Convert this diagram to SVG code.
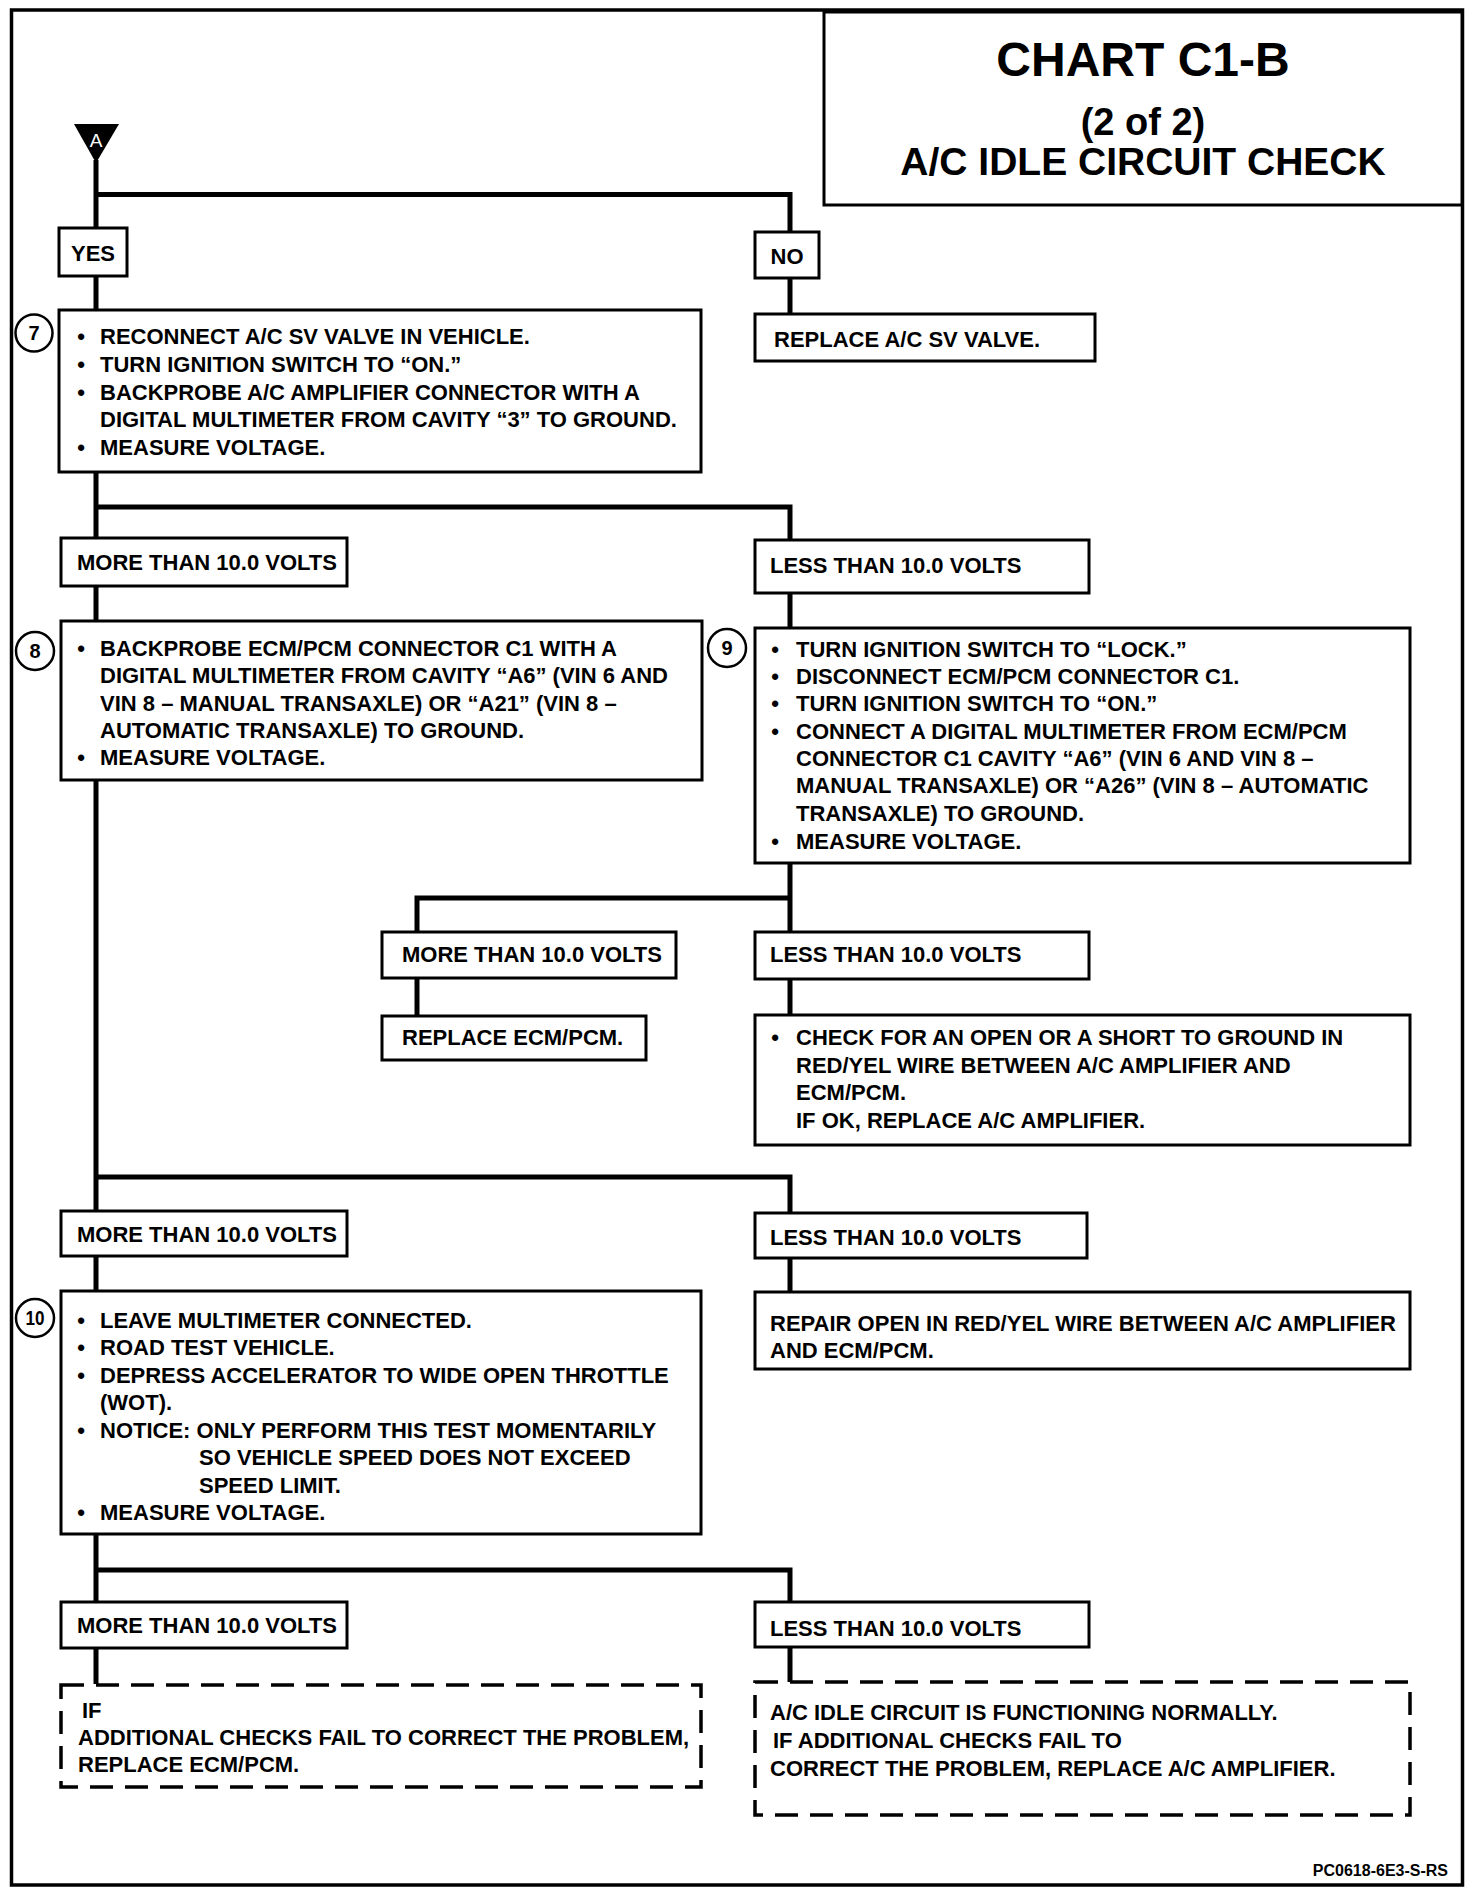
<svg xmlns="http://www.w3.org/2000/svg" width="1472" height="1894" viewBox="0 0 1472 1894">
<style>
.box{fill:#fff;stroke:#000;stroke-width:3}
.dash{fill:#fff;stroke:#000;stroke-width:3.5;stroke-dasharray:23 12}
.conn{fill:none;stroke:#000;stroke-width:5}
.t{font-family:"Liberation Sans",Arial,Helvetica,sans-serif;font-weight:bold;font-size:22px;fill:#000}
.b{font-family:"Liberation Sans",Arial,sans-serif;font-weight:bold;font-size:22px;fill:#000;text-anchor:middle}
.c{fill:#fff;stroke:#000;stroke-width:2.5}
.n{font-family:"Liberation Sans",Arial,sans-serif;font-weight:bold;font-size:20px;text-anchor:middle;fill:#000}
.ttl{font-family:"Liberation Sans",Arial,sans-serif;font-weight:bold;text-anchor:middle;fill:#000}
</style>
<rect x="0" y="0" width="1472" height="1894" fill="#fff"/>
<rect id="frame" x="11.5" y="10" width="1451" height="1875" fill="none" stroke="#000" stroke-width="3.5"/>
<g id="title">
<rect x="824" y="12" width="638" height="193" fill="#fff" stroke="#000" stroke-width="3"/>
<text class="ttl" x="1143" y="76" font-size="48">CHART C1-B</text>
<text class="ttl" x="1143" y="135" font-size="38">(2 of 2)</text>
<text class="ttl" x="1143" y="175" font-size="39">A/C IDLE CIRCUIT CHECK</text>
</g>
<g id="connectors">
<path class="conn" d="M96 160 V1684"/>
<path class="conn" d="M96 194.5 H790 V233"/>
<path class="conn" d="M790 278 V314"/>
<path class="conn" d="M96 507 H790 V540"/>
<path class="conn" d="M790 593 V932"/>
<path class="conn" d="M417 932 V898 H790"/>
<path class="conn" d="M417 978 V1016"/>
<path class="conn" d="M790 979 V1015"/>
<path class="conn" d="M96 1177 H790 V1213"/>
<path class="conn" d="M790 1258 V1292"/>
<path class="conn" d="M96 1570 H790 V1602"/>
<path class="conn" d="M790 1647 V1682"/>
</g>
<g id="start-A">
<polygon points="74,124 119,124 96,163" fill="#000"/>
<text x="96" y="147" font-family="Liberation Sans,Arial,sans-serif" font-size="19" fill="#fff" text-anchor="middle">A</text>
</g>
<g id="yes">
<rect class="box" x="59" y="228" width="68" height="48"/>
<text class="b" x="93" y="261">YES</text>
</g>
<g id="no">
<rect class="box" x="755" y="232" width="64" height="46"/>
<text class="b" x="787" y="264">NO</text>
</g>
<g id="replace-sv">
<rect class="box" x="755" y="314" width="340" height="47"/>
<text class="t" x="774" y="347">REPLACE A/C SV VALVE.</text>
</g>
<g id="step7">
<rect class="box" x="59" y="310" width="642" height="162"/>
<circle class="c" cx="34" cy="333" r="18.5"/>
<text class="n" x="34" y="340">7</text>
<text class="b" x="81" y="344">•</text>
<text class="t" x="100" y="344">RECONNECT A/C SV VALVE IN VEHICLE.</text>
<text class="b" x="81" y="372">•</text>
<text class="t" x="100" y="372">TURN IGNITION SWITCH TO “ON.”</text>
<text class="b" x="81" y="400">•</text>
<text class="t" x="100" y="400">BACKPROBE A/C AMPLIFIER CONNECTOR WITH A</text>
<text class="t" x="100" y="427">DIGITAL MULTIMETER FROM CAVITY “3” TO GROUND.</text>
<text class="b" x="81" y="455">•</text>
<text class="t" x="100" y="455">MEASURE VOLTAGE.</text>
</g>
<g id="more1">
<rect class="box" x="61" y="538" width="286" height="48"/>
<text class="t" x="77" y="570">MORE THAN 10.0 VOLTS</text>
</g>
<g id="less1">
<rect class="box" x="755" y="540" width="334" height="53"/>
<text class="t" x="770" y="573">LESS THAN 10.0 VOLTS</text>
</g>
<g id="step8">
<rect class="box" x="61" y="621" width="641" height="159"/>
<circle class="c" cx="35" cy="651" r="19"/>
<text class="n" x="35" y="658">8</text>
<text class="b" x="81" y="656">•</text>
<text class="t" x="100" y="656">BACKPROBE ECM/PCM CONNECTOR C1 WITH A</text>
<text class="t" x="100" y="683">DIGITAL MULTIMETER FROM CAVITY “A6” (VIN 6 AND</text>
<text class="t" x="100" y="711">VIN 8 – MANUAL TRANSAXLE) OR “A21” (VIN 8 –</text>
<text class="t" x="100" y="738">AUTOMATIC TRANSAXLE) TO GROUND.</text>
<text class="b" x="81" y="765">•</text>
<text class="t" x="100" y="765">MEASURE VOLTAGE.</text>
</g>
<g id="step9">
<rect class="box" x="755" y="628" width="655" height="235"/>
<circle class="c" cx="727" cy="648" r="19"/>
<text class="n" x="727" y="655">9</text>
<text class="b" x="775" y="657">•</text>
<text class="t" x="796" y="657">TURN IGNITION SWITCH TO “LOCK.”</text>
<text class="b" x="775" y="684">•</text>
<text class="t" x="796" y="684">DISCONNECT ECM/PCM CONNECTOR C1.</text>
<text class="b" x="775" y="711">•</text>
<text class="t" x="796" y="711">TURN IGNITION SWITCH TO “ON.”</text>
<text class="b" x="775" y="739">•</text>
<text class="t" x="796" y="739">CONNECT A DIGITAL MULTIMETER FROM ECM/PCM</text>
<text class="t" x="796" y="766">CONNECTOR C1 CAVITY “A6” (VIN 6 AND VIN 8 –</text>
<text class="t" x="796" y="793">MANUAL TRANSAXLE) OR “A26” (VIN 8 – AUTOMATIC</text>
<text class="t" x="796" y="821">TRANSAXLE) TO GROUND.</text>
<text class="b" x="775" y="849">•</text>
<text class="t" x="796" y="849">MEASURE VOLTAGE.</text>
</g>
<g id="more2">
<rect class="box" x="382" y="932" width="294" height="46"/>
<text class="t" x="402" y="962">MORE THAN 10.0 VOLTS</text>
</g>
<g id="less2">
<rect class="box" x="755" y="932" width="334" height="47"/>
<text class="t" x="770" y="962">LESS THAN 10.0 VOLTS</text>
</g>
<g id="replace-ecm1">
<rect class="box" x="382" y="1016" width="264" height="44"/>
<text class="t" x="402" y="1045">REPLACE ECM/PCM.</text>
</g>
<g id="check-open">
<rect class="box" x="755" y="1015" width="655" height="130"/>
<text class="b" x="775" y="1045">•</text>
<text class="t" x="796" y="1045">CHECK FOR AN OPEN OR A SHORT TO GROUND IN</text>
<text class="t" x="796" y="1073">RED/YEL WIRE BETWEEN A/C AMPLIFIER AND</text>
<text class="t" x="796" y="1100">ECM/PCM.</text>
<text class="t" x="796" y="1128">IF OK, REPLACE A/C AMPLIFIER.</text>
</g>
<g id="more3">
<rect class="box" x="61" y="1211" width="286" height="45"/>
<text class="t" x="77" y="1242">MORE THAN 10.0 VOLTS</text>
</g>
<g id="less3">
<rect class="box" x="755" y="1213" width="332" height="45"/>
<text class="t" x="770" y="1245">LESS THAN 10.0 VOLTS</text>
</g>
<g id="step10">
<rect class="box" x="61" y="1291" width="640" height="243"/>
<circle class="c" cx="35" cy="1318" r="19"/>
<text class="n" x="35" y="1325" font-size="18" textLength="19" lengthAdjust="spacingAndGlyphs">10</text>
<text class="b" x="81" y="1328">•</text>
<text class="t" x="100" y="1328">LEAVE MULTIMETER CONNECTED.</text>
<text class="b" x="81" y="1355">•</text>
<text class="t" x="100" y="1355">ROAD TEST VEHICLE.</text>
<text class="b" x="81" y="1383">•</text>
<text class="t" x="100" y="1383">DEPRESS ACCELERATOR TO WIDE OPEN THROTTLE</text>
<text class="t" x="100" y="1410">(WOT).</text>
<text class="b" x="81" y="1438">•</text>
<text class="t" x="100" y="1438">NOTICE: ONLY PERFORM THIS TEST MOMENTARILY</text>
<text class="t" x="199" y="1465">SO VEHICLE SPEED DOES NOT EXCEED</text>
<text class="t" x="199" y="1493">SPEED LIMIT.</text>
<text class="b" x="81" y="1520">•</text>
<text class="t" x="100" y="1520">MEASURE VOLTAGE.</text>
</g>
<g id="repair-open">
<rect class="box" x="755" y="1292" width="655" height="77"/>
<text class="t" x="770" y="1331">REPAIR OPEN IN RED/YEL WIRE BETWEEN A/C AMPLIFIER</text>
<text class="t" x="770" y="1358">AND ECM/PCM.</text>
</g>
<g id="more4">
<rect class="box" x="61" y="1602" width="286" height="46"/>
<text class="t" x="77" y="1633">MORE THAN 10.0 VOLTS</text>
</g>
<g id="less4">
<rect class="box" x="755" y="1602" width="334" height="45"/>
<text class="t" x="770" y="1636">LESS THAN 10.0 VOLTS</text>
</g>
<g id="final-left">
<rect class="dash" x="61" y="1685" width="640" height="102"/>
<text class="t" x="82" y="1718">IF</text>
<text class="t" x="78" y="1745">ADDITIONAL CHECKS FAIL TO CORRECT THE PROBLEM,</text>
<text class="t" x="78" y="1772">REPLACE ECM/PCM.</text>
</g>
<g id="final-right">
<rect class="dash" x="755" y="1682" width="655" height="133"/>
<text class="t" x="770" y="1720">A/C IDLE CIRCUIT IS FUNCTIONING NORMALLY.</text>
<text class="t" x="773" y="1748">IF ADDITIONAL CHECKS FAIL TO</text>
<text class="t" x="770" y="1776">CORRECT THE PROBLEM, REPLACE A/C AMPLIFIER.</text>
</g>
<text x="1448" y="1876" font-family="Liberation Sans,Arial,sans-serif" font-weight="bold" font-size="16" text-anchor="end">PC0618-6E3-S-RS</text>
</svg>
